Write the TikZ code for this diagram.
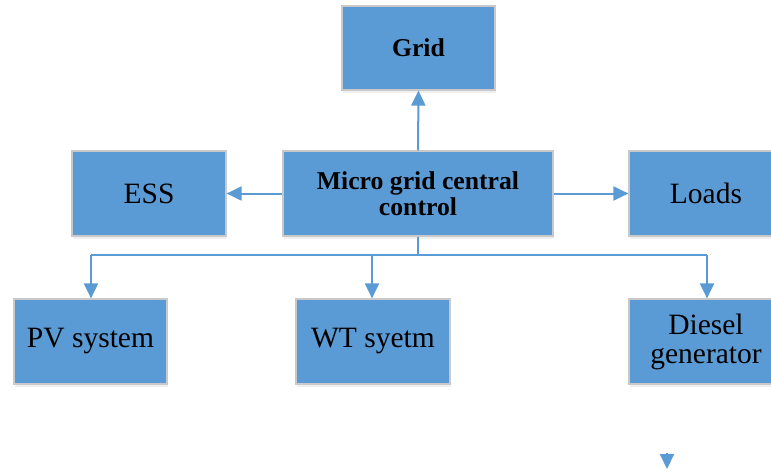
\documentclass[tikz,border=0pt]{standalone}
\usepackage{fontspec}
\setmainfont{Liberation Serif}
\usetikzlibrary{arrows.meta,shadows}
\definecolor{boxblue}{HTML}{5B9BD5}
\definecolor{boxedge}{HTML}{C9C9C9}
\definecolor{wireblue}{HTML}{5B9BD5}
\tikzset{
  unit/.style={draw=boxedge, line width=1.2pt, fill=boxblue, inner sep=2pt,
    minimum width=154pt, minimum height=85pt, align=center,
    drop shadow={opacity=0.12, shadow xshift=1pt, shadow yshift=-2.5pt},
    font=\fontsize{29.5}{29}\selectfont},
  boldunit/.style={unit, font=\fontsize{25.7}{26.5}\selectfont\bfseries},
  wire/.style={draw=wireblue, line width=2pt},
  flow/.style={wire, -{Triangle[length=15pt,width=14pt]}}
}
\begin{document}
\begin{tikzpicture}[x=1pt,y=-1pt]
  \useasboundingbox (0,0) rectangle (771,472);
  \clip (0,0) rectangle (771,472);
  \fill[white] (0,0) rectangle (771,472);

  % blocks
  \node[boldunit, minimum width=153pt, minimum height=84pt] (grid) at (418.5,48) {Grid};
  \node[boldunit, minimum width=270pt] (ctrl) at (418,193.5) {Micro grid central\\control};
  \node[unit] (ess) at (149,193.5) {ESS};
  \node[unit] (loads) at (706,193.5) {Loads};
  \node[unit, minimum width=153pt] (pv) at (90.5,341.5) {PV system};
  \node[unit] (wt) at (373,341.5) {WT syetm};
  \node[unit] (dg) at (706,341.5) {Diesel\\generator};

  % distribution bus under the controller
  \coordinate (busL) at (91,255);
  \coordinate (busR) at (707,255);
  \coordinate (busW) at (372,255);

  \draw[flow] (ctrl.north) -- (grid.south);
  \draw[flow] (ctrl.west) -- (ess.east);
  \draw[flow] (ctrl.east) -- (loads.west);

  \draw[wire] (ctrl.south) -- (ctrl.south |- busL);
  \draw[wire] (busL) -- (busR);
  \draw[flow] (busL) -- (busL |- pv.north);
  \draw[flow] (busW) -- (busW |- wt.north);
  \draw[flow] (busR) -- (busR |- dg.north);

  % lone arrow tip near the bottom
  \coordinate (tipA) at (667,453);
  \coordinate (tipB) at (667,469);
  \draw[flow] (tipA) -- (tipB);
\end{tikzpicture}
\end{document}
